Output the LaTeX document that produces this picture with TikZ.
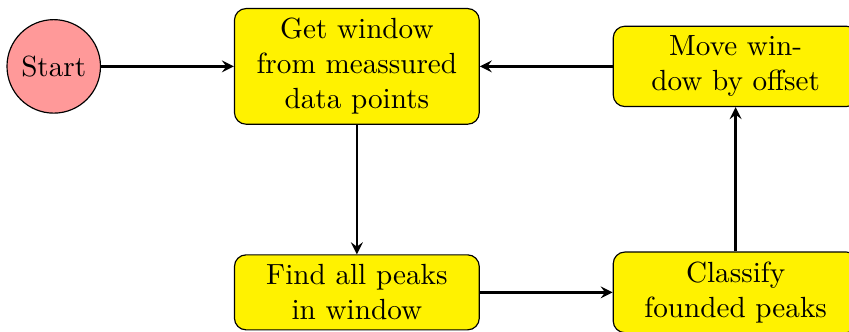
\documentclass[tikz,border=0pt]{standalone}
\usetikzlibrary{positioning}
\begin{document}
\begin{tikzpicture}[node distance=1.6cm,>=stealth,
    startnode/.style={circle,draw,fill=red!40,minimum size=1.1cm},
    procnode/.style={rectangle,rounded corners,draw,fill=yellow,text width=2.5cm,minimum width=2.95cm,align=center},
    arr/.style={->,thick}]
    \useasboundingbox (-4.30,0.80) rectangle (5.93,-3.19);

    \node[procnode] (A) at (0,0) {Get window from meassured data points};
    \node[startnode,left=of A] (S) {Start};
    \node[procnode,below=1.56cm of A] (B) {Find all peaks in window};
    \node[procnode,right=of B] (C) {Classify founded peaks};
    \node[procnode,right=of A] (D) {Move win-\\dow by offset};

    \draw[arr] (S) -- (A);
    \draw[arr] (A) -- (B);
    \draw[arr] (B) -- (C);
    \draw[arr] (C) -- (D);
    \draw[arr] (D) -- (A);

\end{tikzpicture}
\end{document}
